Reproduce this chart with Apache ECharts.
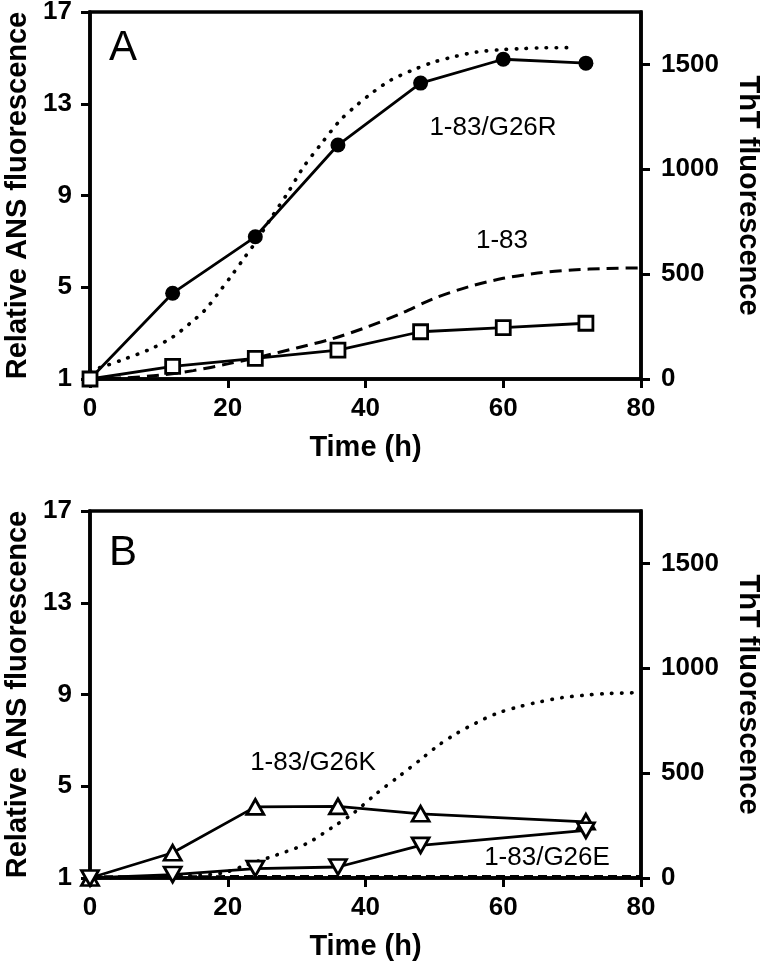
<!DOCTYPE html>
<html>
<head>
<meta charset="utf-8">
<script src="https://cdn.jsdelivr.net/npm/echarts@6/dist/echarts.min.js"></script>
<style>
html,body{margin:0;padding:0;background:#fff;}
#chart{width:760px;height:965px;}
</style>
</head>
<body>
<div id="chart"></div>
<script>
// ---------- Data ----------
// Panel A
var timesA = [0, 12, 24, 36, 48, 60, 72];
var g26rANS = [1, 4.74, 7.2, 11.2, 13.9, 14.94, 14.77];
var wtANS = [1, 1.55, 1.9, 2.26, 3.06, 3.24, 3.43];
var tA_dot = [0, 2, 5, 9, 12, 14.5, 16.7, 18.6, 20.6, 22.5, 24, 26.4, 28.8, 31, 33.4, 36.3, 38.7, 41.1, 43.6, 46.7, 49.9, 53, 56.1, 59.5, 62.4, 65.8, 70.4];
var g26rThT = [40, 60, 95, 146, 200, 265, 329, 408, 495, 582, 650, 773, 892, 1011, 1114, 1233, 1305, 1368, 1424, 1471, 1511, 1538, 1559, 1570, 1575, 1579, 1580];
var tA_dash = [0, 5, 10, 15, 20, 25, 30, 35, 40, 45, 50, 55, 60, 65, 70, 75, 80];
var wtThT = [0, 5, 18, 40, 72, 108, 148, 190, 245, 310, 385, 440, 480, 505, 520, 527, 530];
// Panel B
var timesB = [0, 12, 24, 36, 48, 72];
var g26kANS = [1, 2.1, 4.1, 4.12, 3.8, 3.45];
var g26eANS = [1, 1.15, 1.41, 1.48, 2.42, 3.08];
var tB_dot = [0, 5, 10, 15, 19.4, 22.7, 27.1, 31.5, 35.3, 38.2, 41.6, 44.8, 48.2, 50.6, 53.2, 56.1, 59, 62.2, 65.3, 68.5, 71.6, 74.8, 80];
var g26kThT = [0, 2, 5, 11, 25, 62, 110, 165, 244, 308, 403, 483, 570, 633, 689, 740, 784, 816, 840, 860, 871, 879, 884];
var tB_dash = [0, 20, 40, 60, 80];
var g26eThT = [8, 9, 10, 10, 10];
// Axes / ticks
var xTicks = {min: 0, max: 80, interval: 20};
var ansTicks = {min: 1, max: 17, interval: 4};
var thtTicks = {min: 0, max: 1750, values: [0, 500, 1000, 1500]};
var xTitle = 'Time (h)';
var leftTitle = 'Relative ANS fluorescence';
var rightTitle = 'ThT fluorescence';
var annotations = [
  {text: 'A', x: 123, y: 48, size: 42},
  {text: '1-83/G26R', x: 493, y: 128, size: 26},
  {text: '1-83', x: 502, y: 241, size: 26},
  {text: 'B', x: 123, y: 553, size: 42},
  {text: '1-83/G26K', x: 313, y: 763, size: 26},
  {text: '1-83/G26E', x: 547, y: 858, size: 26}
];

function zip(xs, ys) { return xs.map(function (x, i) { return [x, ys[i]]; }); }

var FONT = '"Liberation Sans", Arial, Helvetica, sans-serif';
var BLACK = '#000';
var lineAxis = {lineStyle: {color: BLACK, width: 3.5}};
var tick = {show: true, length: 9, lineStyle: {color: BLACK, width: 3}};
var tickLabel = {color: BLACK, fontSize: 26, fontWeight: 'bold', fontFamily: FONT, formatter: function (v) { return String(v); }};
var titleStyle = {color: BLACK, fontSize: 29, fontWeight: 'bold', fontFamily: FONT};

var gridTops = [12, 511];
var grids = gridTops.map(function (t) {
  return {left: 90, top: t, width: 551, height: 367, show: true, borderColor: BLACK, borderWidth: 3.5,
    backgroundColor: 'transparent', containLabel: false, outerBoundsMode: 'none'};
});

var xAxes = [0, 1].map(function (g) {
  return {
    type: 'value', gridIndex: g, min: xTicks.min, max: xTicks.max, interval: xTicks.interval,
    axisLine: lineAxis, axisTick: tick, splitLine: {show: false},
    axisLabel: Object.assign({}, tickLabel, {margin: 17}),
    name: xTitle, nameLocation: 'middle', nameGap: 54, nameTextStyle: titleStyle
  };
});

var yAxes = [];
[0, 1].forEach(function (g) {
  yAxes.push({
    type: 'value', gridIndex: g, position: 'left', min: ansTicks.min, max: ansTicks.max, interval: ansTicks.interval,
    axisLine: lineAxis, axisTick: tick, splitLine: {show: false},
    axisLabel: Object.assign({}, tickLabel, {margin: 18}),
    name: leftTitle, nameLocation: 'middle', nameRotate: 90, nameGap: 56, nameTextStyle: titleStyle
  });
  yAxes.push({
    type: 'value', gridIndex: g, position: 'right', min: thtTicks.min, max: thtTicks.max, interval: 500,
    axisLine: lineAxis,
    axisTick: Object.assign({}, tick, {customValues: thtTicks.values}),
    splitLine: {show: false},
    axisLabel: Object.assign({}, tickLabel, {margin: 20, customValues: thtTicks.values}),
    name: rightTitle, nameLocation: 'middle', nameRotate: -90, nameGap: 92, nameTextStyle: titleStyle
  });
});

var dotted = {color: BLACK, width: 3.6, type: [0.5, 9.5], cap: 'round'};
var dashed = {color: BLACK, width: 3, type: [12, 7]};
var solid = {color: BLACK, width: 2.8};

var series = [
  // Panel A curves (ThT, right axis)
  {type: 'line', xAxisIndex: 0, yAxisIndex: 1, data: zip(tA_dot, g26rThT), showSymbol: false, symbol: 'none', smooth: 0.3, lineStyle: dotted, z: 1},
  {type: 'line', xAxisIndex: 0, yAxisIndex: 1, data: zip(tA_dash, wtThT), showSymbol: false, symbol: 'none', smooth: 0.3, lineStyle: dashed, z: 1},
  // Panel A ANS
  {type: 'line', xAxisIndex: 0, yAxisIndex: 0, data: zip(timesA, g26rANS), symbol: 'circle', symbolSize: 15, lineStyle: solid, itemStyle: {color: BLACK}, z: 3},
  {type: 'line', xAxisIndex: 0, yAxisIndex: 0, data: zip(timesA, wtANS), symbol: 'rect', symbolSize: 14, lineStyle: solid, itemStyle: {color: '#fff', borderColor: BLACK, borderWidth: 2.8}, z: 3},
  // Panel B curves
  {type: 'line', xAxisIndex: 1, yAxisIndex: 3, data: zip(tB_dot, g26kThT), showSymbol: false, symbol: 'none', smooth: 0.3, lineStyle: dotted, z: 1},
  {type: 'line', xAxisIndex: 1, yAxisIndex: 3, data: zip(tB_dash, g26eThT), showSymbol: false, symbol: 'none', lineStyle: {color: BLACK, width: 2, type: [9, 5]}, z: 1},
  // Panel B ANS
  {type: 'line', xAxisIndex: 1, yAxisIndex: 2, data: zip(timesB, g26kANS), symbol: 'triangle', symbolSize: [17, 15], lineStyle: solid, itemStyle: {color: '#fff', borderColor: BLACK, borderWidth: 2.8}, z: 3},
  {type: 'line', xAxisIndex: 1, yAxisIndex: 2, data: zip(timesB, g26eANS), symbol: 'triangle', symbolRotate: 180, symbolSize: [17, 15], lineStyle: solid, itemStyle: {color: '#fff', borderColor: BLACK, borderWidth: 2.8}, z: 3}
];

var graphic = annotations.map(function (a) {
  return {type: 'text', x: a.x, y: a.y, z: 10, style: {text: a.text, fill: BLACK, fontSize: a.size, fontFamily: FONT, align: 'center', verticalAlign: 'middle'}};
});

var chart = echarts.init(document.getElementById('chart'), null, {renderer: 'canvas'});
chart.setOption({
  animation: false,
  backgroundColor: '#fff',
  grid: grids,
  xAxis: xAxes,
  yAxis: yAxes,
  series: series,
  graphic: graphic
});
</script>
</body>
</html>
